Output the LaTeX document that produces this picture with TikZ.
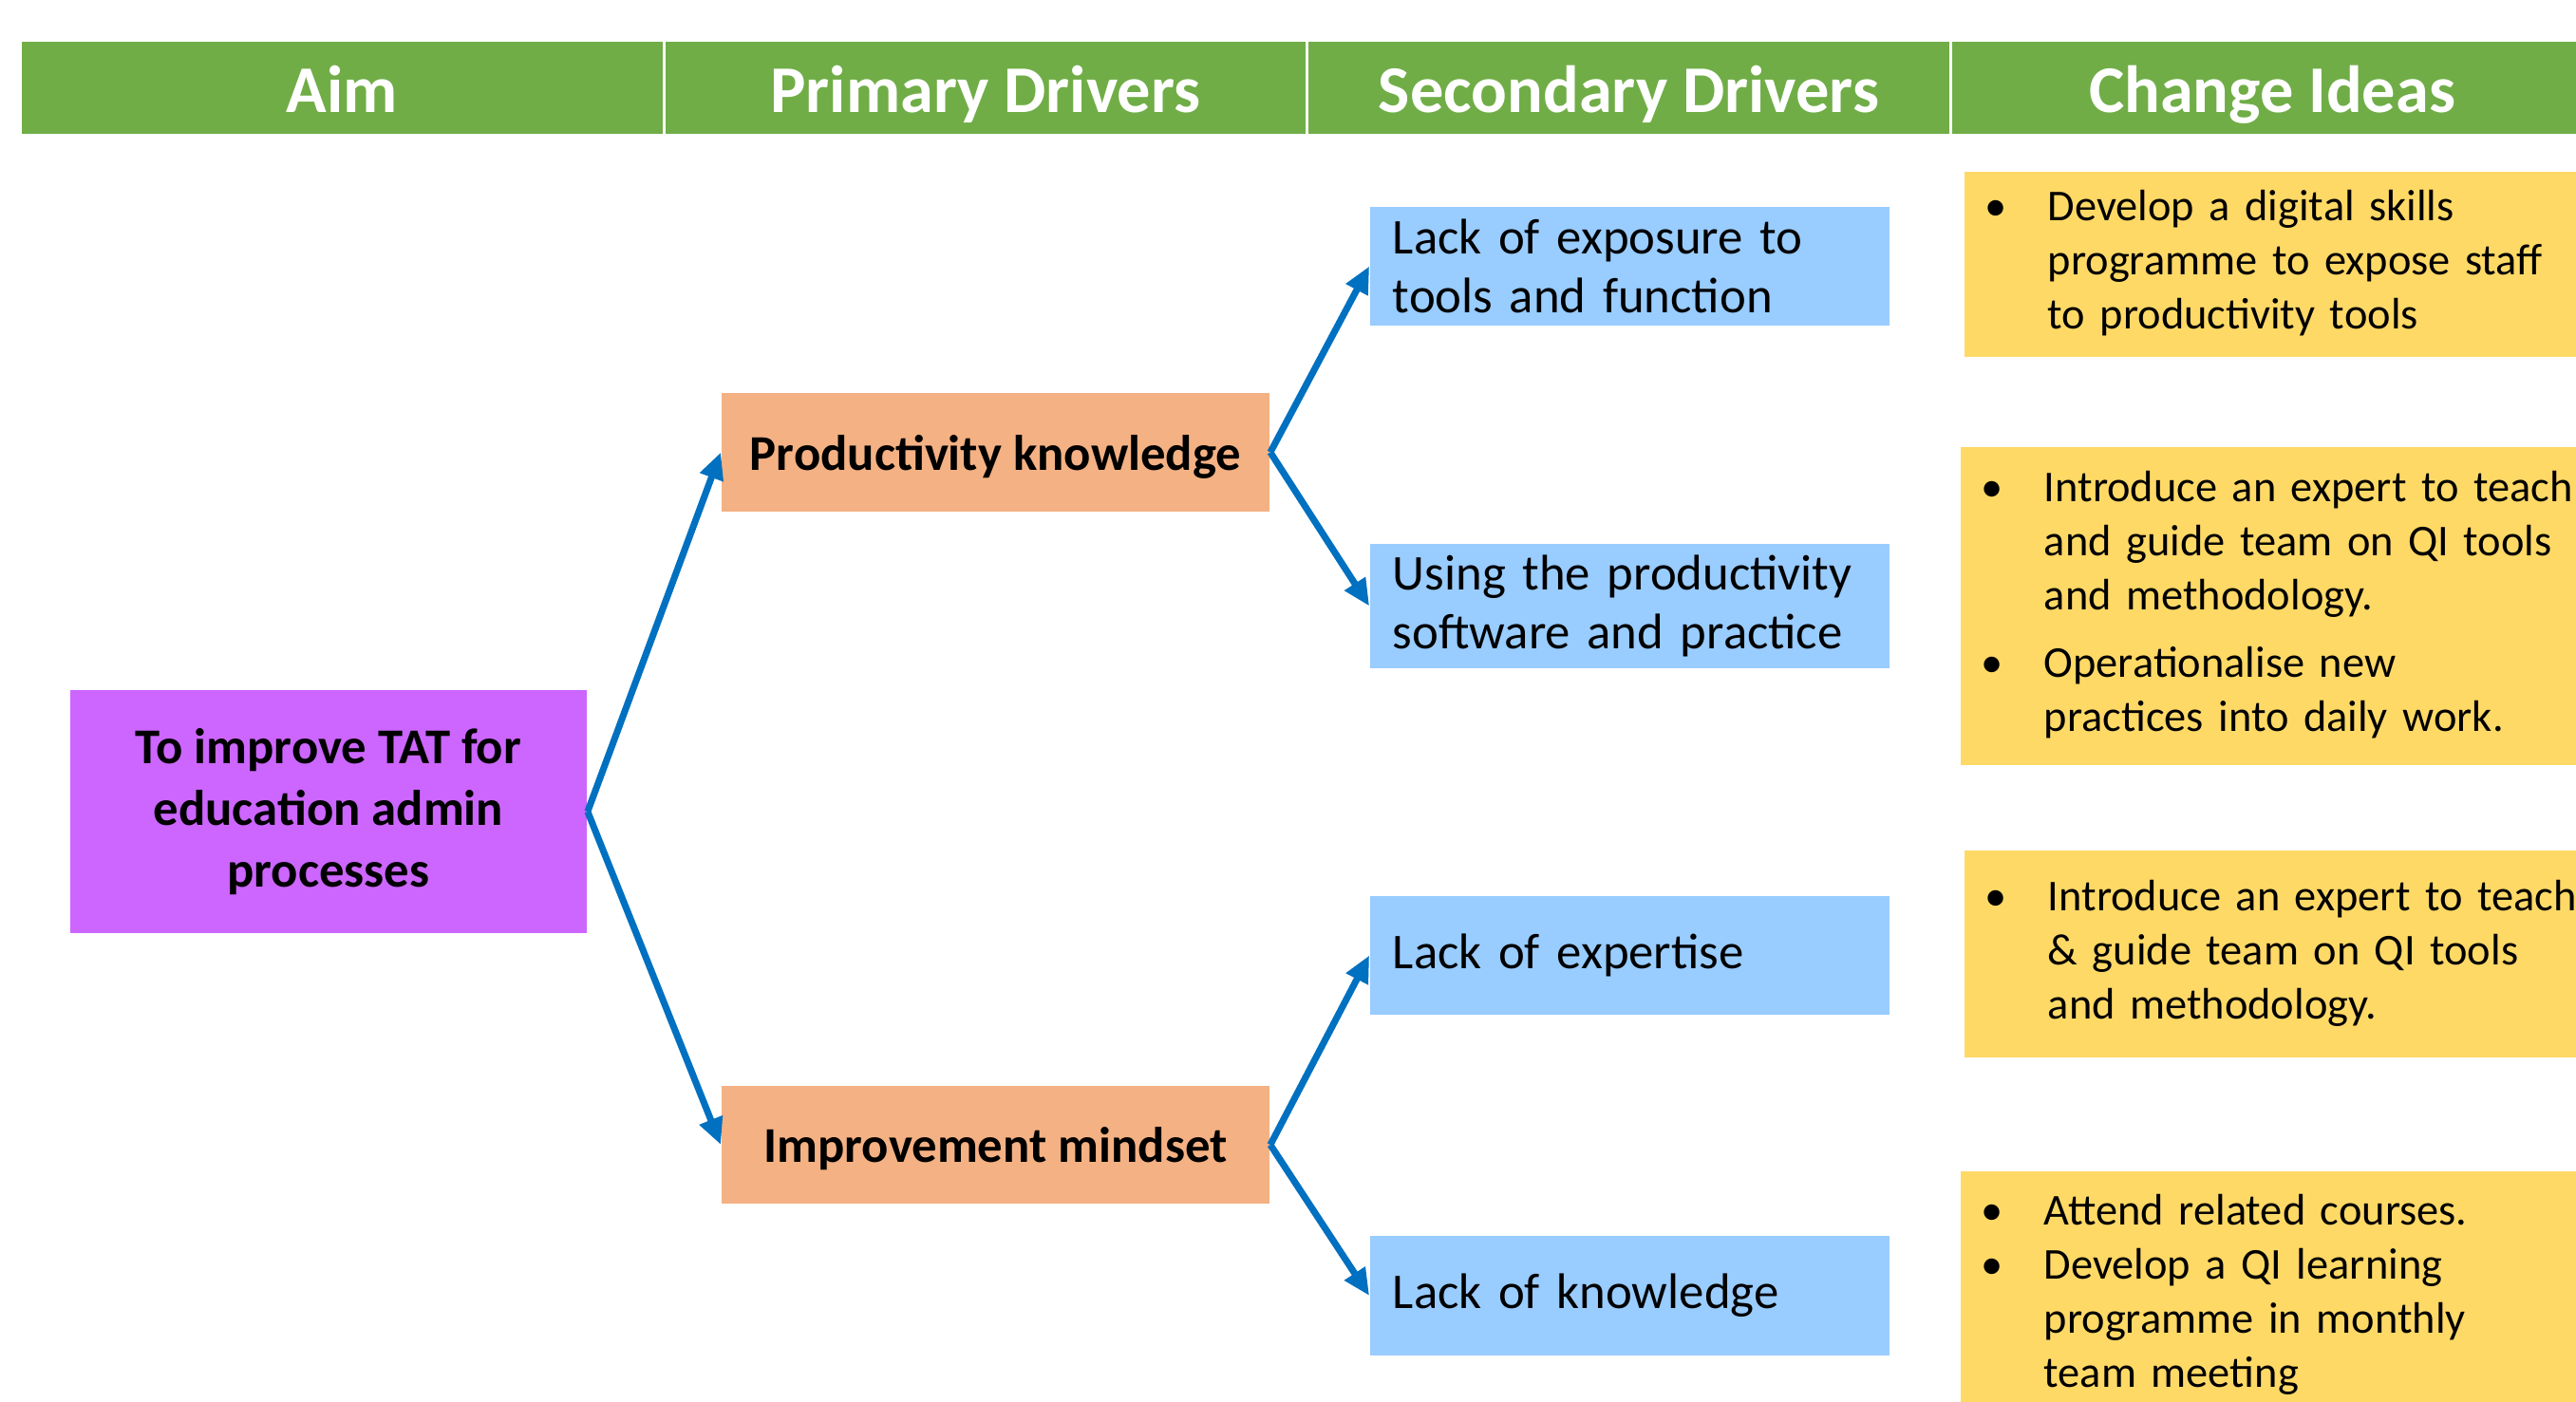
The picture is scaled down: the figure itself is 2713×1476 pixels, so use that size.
\documentclass[tikz,border=0pt]{standalone}
\usepackage{fontspec}
\setmainfont{Carlito}
\usetikzlibrary{arrows.meta}

\definecolor{hdgreen}{HTML}{70AD47}
\definecolor{aimpurple}{HTML}{CC66FF}
\definecolor{priorange}{HTML}{F4B183}
\definecolor{secblue}{HTML}{99CCFF}
\definecolor{ideayellow}{HTML}{FFD966}
\definecolor{arrowblue}{HTML}{0070C0}

% bullet list: one column for the dot, one for the lines
\newenvironment{ideas}{\begin{tabular}{@{}p{0.66cm}@{}l@{}}}{\end{tabular}}

\begin{document}
\begin{tikzpicture}
  [x=0.01cm,y=-0.01cm,
   head/.style={fill=hdgreen,draw=white,line width=0.8pt,minimum width=6.77cm,minimum height=0.99cm,
     text height=0.55cm,text depth=0.04cm,text=white,font=\fontsize{20}{24}\selectfont\bfseries},
   aimbox/.style={fill=aimpurple,minimum width=5.44cm,minimum height=2.56cm,align=center,
     font=\fontsize{15}{18.4}\selectfont\bfseries},
   pribox/.style={fill=priorange,minimum width=5.77cm,minimum height=1.24cm,
     text height=0.46cm,text depth=0.09cm,font=\fontsize{15}{18}\selectfont\bfseries},
   secbox/.style={fill=secblue,minimum width=5.47cm,minimum height=1.25cm,inner xsep=0.24cm,
     text width=4.99cm,align=left,font=\fontsize{15}{17.6}\selectfont},
   ideabox/.style={fill=ideayellow,anchor=west,inner xsep=0.22cm,text width=6.36cm,align=left,
     font=\fontsize{13.2}{16.2}\selectfont},
   link/.style={draw=arrowblue,line width=2pt,-{Triangle[length=8pt,width=7pt]}}]
  \useasboundingbox (0,0) rectangle (2713,1476);
  \clip (0,0) rectangle (2713,1476);

  \node[head] (h1) at (360.5,92.5) {Aim};
  \node[head] (h2) at (1038,92.5)  {Primary Drivers};
  \node[head] (h3) at (1715.5,92.5) {Secondary Drivers};
  \node[head] (h4) at (2393,92.5)  {Change Ideas};

  \node[aimbox] (aim) at (346,855) {To improve TAT for\\education admin\\processes};

  \node[pribox] (pk) at (1048.5,476.5) {Productivity knowledge};
  \node[pribox] (im) at (1048.5,1206)  {Improvement mindset};

  \node[secbox] (s1) at (1716.5,280.5)  {Lack of exposure to\\tools and function};
  \node[secbox] (s2) at (1716.5,638.5)  {Using the productivity\\software and practice};
  \node[secbox] (s3) at (1716.5,1006.5) {Lack of expertise};
  \node[secbox] (s4) at (1716.5,1365)   {Lack of knowledge};

  \node[ideabox,minimum height=1.91cm] (c1) at (2068,278.5)
    {\begin{ideas}\textbullet & Develop a digital skills\\ & programme to expose staff\\ & to productivity tools\end{ideas}};
  \node[ideabox,minimum height=3.35cm] (c2) at (2064,638.5)
    {\begin{ideas}\textbullet & Introduce an expert to teach\\ & and guide team on QI tools\\ & and methodology.\\[4pt]
     \textbullet & Operationalise new\\ & practices into daily work.\end{ideas}};
  \node[ideabox,minimum height=2.18cm] (c3) at (2068,1005)
    {\begin{ideas}\textbullet & Introduce an expert to teach\\ & \& guide team on QI tools\\ & and methodology.\end{ideas}};
  \node[ideabox,minimum height=2.62cm] (c4) at (2064,1365)
    {\begin{ideas}\textbullet & Attend related courses.\\ \textbullet & Develop a QI learning\\ & programme in monthly\\ & team meeting\end{ideas}};

 \foreach \from/\to in {aim/pk,aim/im,pk/s1,pk/s2,im/s3,im/s4}
    \draw[link] (\from.east) -- (\to.west);
\end{tikzpicture}
\end{document}
